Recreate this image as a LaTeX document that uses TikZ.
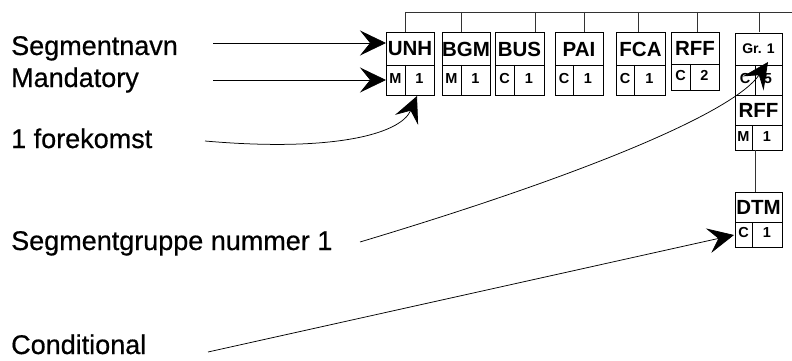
\documentclass[tikz,border=0pt]{standalone}
\usepackage{fontspec}
\setmainfont{Liberation Sans}
\newfontfamily\lblfont{Liberation Sans}[FakeBold=0.6]
\usetikzlibrary{arrows.meta}
\newcommand\segbox[9]{%
  \fill[black] ({#5+1.4},33.4) rectangle ({#6+1.4},{#8+1.4});
  \draw[boxline,fill=white] (#5,32) rectangle (#6,#8);
  \draw[boxline] (#5,#9) -- (#6,#9) (#7,#9) -- (#7,#8);
  \node[segname] (#1) at ({(#5+#6)/2},{(32+#9)/2+0.5}) {#2};
  \node[segcell] (#1s) at ({(#5+#7)/2},{(#9+#8)/2-1.5}) {#3};
  \node[segcell] (#1r) at ({(#7+#6)/2},{(#9+#8)/2-1.5}) {#4};
}
\begin{document}
\begin{tikzpicture}[x=1pt,y=-1pt,
  lbl/.style={anchor=base west,inner sep=0pt,font=\lblfont\fontsize{27}{30}\selectfont},
  segname/.style={inner sep=0pt,font=\bfseries\fontsize{20.5}{24}\selectfont},
  segcell/.style={inner sep=0pt,font=\bfseries\fontsize{14.5}{16}\selectfont},
  grname/.style={inner sep=0pt,font=\bfseries\fontsize{14}{16}\selectfont},
  boxline/.style={line width=0.8pt},
  conn/.style={line width=0.6pt,black!80},
  pointer/.style={line width=0.75pt,-{Stealth[length=26pt,width=25pt,inset=10pt]}},
]
\useasboundingbox (0,0) rectangle (792,361);

% labels
\node[lbl] (lSeg)   at (11,55)  {Segmentnavn};
\node[lbl] (lMand)  at (11,87)  {Mandatory};
\node[lbl] (lForek) at (11,148) {1 forekomst};
\node[lbl] (lGrp)   at (11,250) {Segmentgruppe nummer 1};
\node[lbl] (lCond)  at (11,354) {Conditional};

% top bus
\coordinate (busL) at (405,12);
\coordinate (busR) at (792,12);
\draw[conn] (busL) -- (busR);

% segment boxes: id, name, status, rep, xl, xr, xdiv, ybottom, ymid
\segbox{unh}{UNH}{M}{1}{386}{434}{405}{95}{65}
\segbox{bgm}{BGM}{M}{1}{442}{490}{461}{95}{65}
\segbox{bus}{BUS}{C}{1}{495}{544}{514}{95}{65}
\segbox{pai}{PAI}{C}{1}{555}{603}{573}{95}{65}
\segbox{fca}{FCA}{C}{1}{616}{665}{634}{95}{65}
\segbox{rff}{RFF}{C}{2}{671}{719}{690}{90}{64}

% drops from bus
\foreach \n/\x in {unh/405,bgm/461,bus/535,pai/584,fca/638,rff/697,gr/759}{
  \coordinate (\n T) at (\x,32);
  \draw[conn] (\n T |- busL) -- (\n T);
}

% group box
\fill[black] (736.4,34.4) rectangle (783.4,151.4);
\draw[boxline,fill=white] (735,33) rectangle (782,150);
\draw[boxline] (735,65) -- (782,65) (735,95) -- (782,95) (735,125) -- (782,125)
  (755,65) -- (755,95) (752,125) -- (752,150);
\node[grname]  (gr)   at (758.5,49) {Gr. 1};
\node[segcell] (grs)  at (745,79) {C};
\node[segcell] (grr)  at (768,79) {5};
\node[segname] (grff) at (758.5,110) {RFF};
\node[segcell] (grfs) at (743.5,137) {M};
\node[segcell] (grfr) at (767,137) {1};
\coordinate (grB) at (755,150);

% DTM box
\fill[black] (736.4,193.4) rectangle (783.4,248.4);
\draw[boxline,fill=white] (735,192) rectangle (782,247);
\draw[boxline] (735,222) -- (782,222) (752,222) -- (752,247);
\node[segname] (dtm)  at (758.5,207.5) {DTM};
\node[segcell] (dtms) at (743.5,233) {C};
\node[segcell] (dtmr) at (767,233) {1};
\coordinate (dtmT) at (755,192);
\draw[conn] (grB) -- (dtmT);

% pointers
\coordinate (s1) at (213,43);  \coordinate (e1) at (386,43);
\coordinate (s2) at (213,80);  \coordinate (e2) at (386,80);
\coordinate (s3) at (205,141); \coordinate (e3) at (417,96);
\coordinate (s4) at (360,242); \coordinate (e4) at (768,62);
\coordinate (s5) at (208,352); \coordinate (e5) at (734,235);
\draw[pointer] (s1) -- (e1);
\draw[pointer] (s2) -- (e2);
\draw[pointer] (s3) .. controls (330,152) and (400,135) .. (e3);
\draw[pointer] (s4) .. controls (600,170) and (735,110) .. (e4);
\draw[pointer] (s5) -- (e5);
\end{tikzpicture}
\end{document}
